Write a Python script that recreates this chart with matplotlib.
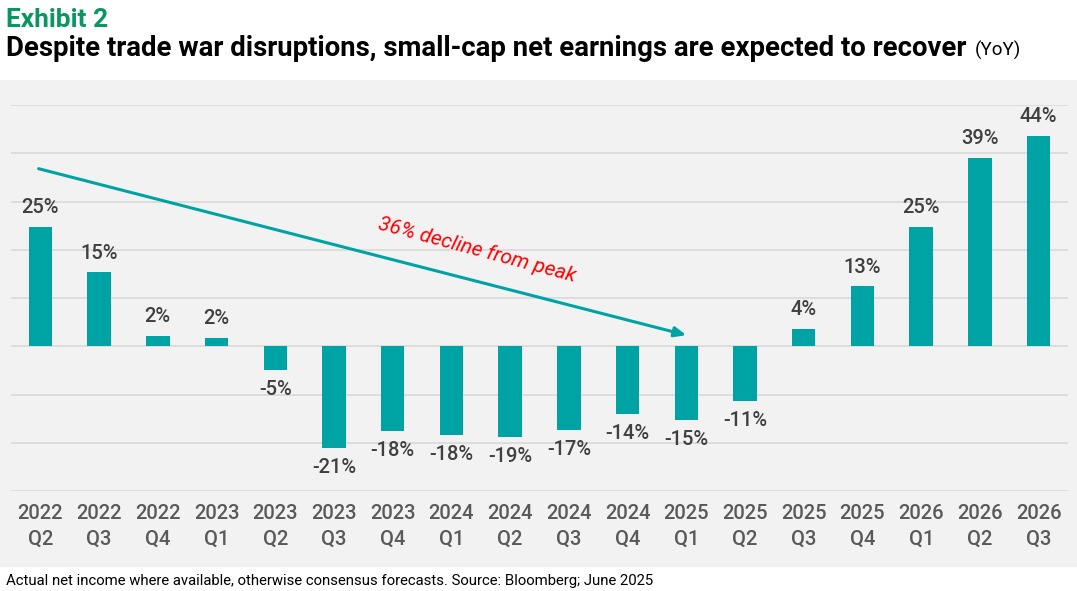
import numpy as np
import matplotlib.pyplot as plt
from matplotlib.patches import Rectangle

# ── Data ───────────────────────────────────────────────────────────────────────
quarters = ["2022\nQ2", "2022\nQ3", "2022\nQ4", "2023\nQ1", "2023\nQ2", "2023\nQ3",
            "2023\nQ4", "2024\nQ1", "2024\nQ2", "2024\nQ3", "2024\nQ4", "2025\nQ1",
            "2025\nQ2", "2025\nQ3", "2025\nQ4", "2026\nQ1", "2026\nQ2", "2026\nQ3"]
growth = [24.7, 15.3, 2.1, 1.7, -5.0, -21.0, -17.5, -18.4, -18.8, -17.4, -14.0,
          -15.3, -11.3, 3.5, 12.4, 24.8, 39.1, 43.5]
labels = ["25%", "15%", "2%", "2%", "-5%", "-21%", "-18%", "-18%", "-19%", "-17%",
          "-14%", "-15%", "-11%", "4%", "13%", "25%", "39%", "44%"]

arrow_start = (-0.03, 36.8)
arrow_end = (11.0, 2.3)

TEAL = "#00a3a3"
GREEN = "#0a9660"
BG = "#f2f2f2"

plt.rcParams['font.family'] = ['Roboto', 'DejaVu Sans']

fig = plt.figure(figsize=(10.77, 5.91), dpi=100)
fig.patches.append(Rectangle((0, 1 - 566 / 591), 1, (566 - 80) / 591,
                             transform=fig.transFigure, color=BG, zorder=-10))

ax = fig.add_axes([11 / 1077, 1 - 491 / 591, 1057 / 1077, 386 / 591])
ax.set_facecolor("none")
x = np.arange(len(quarters))
ax.bar(x, growth, width=0.4, color=TEAL, zorder=3)

ax.set_xlim(-0.5, len(quarters) - 0.5)
ax.set_ylim(-30, 50)
ax.set_yticks(np.arange(-30, 51, 10))
ax.yaxis.grid(True, color="#d9d9d9", linewidth=1.2, zorder=0)
ax.tick_params(axis='y', left=False, labelleft=False)
ax.tick_params(axis='x', bottom=False, pad=6)
ax.set_xticks(x)
ax.set_xticklabels(quarters, fontsize=14.5, color="#595959", linespacing=1.4,
                   fontweight="medium")
for s in ax.spines.values():
    s.set_visible(False)

for xi, v, lab in zip(x, growth, labels):
    off = 10 if v >= 0 else -18
    ax.annotate(lab, (xi, v), xytext=(0, off), textcoords="offset points",
                ha="center", va="baseline", fontsize=14.5, color="#404040",
                fontweight="medium")

ax.annotate("", xy=arrow_end, xytext=arrow_start,
            arrowprops=dict(arrowstyle="-|>,head_length=0.7,head_width=0.3",
                            color=TEAL, lw=2.2, shrinkA=0, shrinkB=0), zorder=4)
ax.text(7.44, 19.9, "36% decline from peak", color="#ff0000", fontsize=15,
        style="italic", rotation=-15, ha="center", va="center", rotation_mode="anchor")

# ── Titles ─────────────────────────────────────────────────────────────────────
fig.text(6 / 1077, 1 - 27 / 591, "Exhibit 2", color=GREEN, fontsize=19,
         fontweight="bold", va="baseline")
t = fig.text(6 / 1077, 1 - 56 / 591,
             "Despite trade war disruptions, small-cap net earnings are expected to recover",
             color="black", fontsize=19.8, fontweight="bold", va="baseline")
fig.canvas.draw()
bb = t.get_window_extent()
fig.text(bb.x1 / 1077 + 8 / 1077, 1 - 56 / 591, "(YoY)", color="black", fontsize=13.5,
         va="baseline")

fig.text(6 / 1077, 1 - 585 / 591,
         "Actual net income where available, otherwise consensus forecasts. Source: Bloomberg; June 2025",
         color="black", fontsize=10.7, va="baseline")

fig.savefig("out.png", dpi=100)
